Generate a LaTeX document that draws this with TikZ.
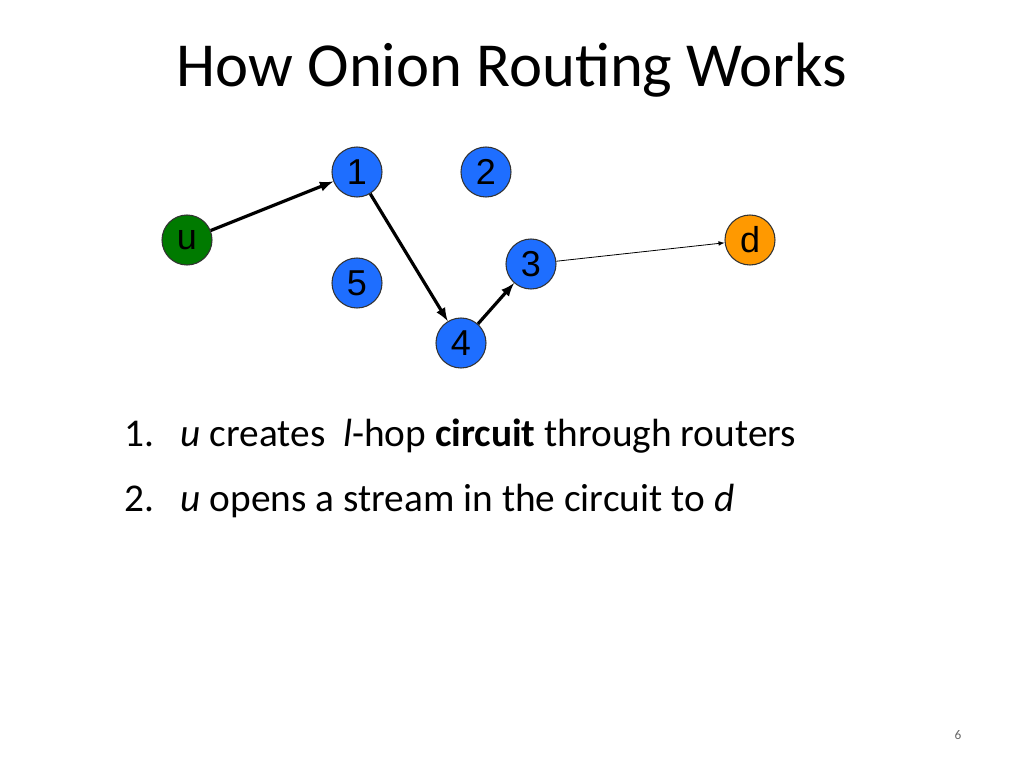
\documentclass[tikz,border=0pt]{standalone}
\usepackage{fontspec}
\setmainfont{Carlito}
\newfontfamily\nodefont{Liberation Sans}
\begin{document}
\begin{tikzpicture}[x=0.75pt,y=-0.75pt,
 rnode/.style={circle,draw=black!80,line width=0.8pt,minimum size=37.5pt,inner sep=0pt,font=\nodefont\fontsize{27}{27}\selectfont},
 thk/.style={-latex,line width=2.4pt},
 thn/.style={-latex,line width=0.6pt}]
\useasboundingbox (0,0) rectangle (1024,768);
\node[font=\fontsize{47}{50}\selectfont] (title) at (512,70) {How Onion Routing Works};
\node[rnode,fill={rgb,255:red,0;green,122;blue,0}] (u) at (187,240) {u};
\node[rnode,fill={rgb,255:red,30;green,110;blue,255}] (n1) at (357,172) {1};
\node[rnode,fill={rgb,255:red,30;green,110;blue,255}] (n2) at (486,172) {2};
\node[rnode,fill={rgb,255:red,255;green,153;blue,0}] (d) at (750,240) {d};
\node[rnode,fill={rgb,255:red,30;green,110;blue,255}] (n3) at (531,264) {3};
\node[rnode,fill={rgb,255:red,30;green,110;blue,255}] (n5) at (357,283) {5};
\node[rnode,fill={rgb,255:red,30;green,110;blue,255}] (n4) at (461,343) {4};
\draw[thk] (u) -- (n1);
\draw[thk] (n1) -- (n4);
\draw[thk] (n4) -- (n3);
\draw[thn] (n3) -- (d);
\node[anchor=base west,font=\fontsize{29.5}{32}\selectfont] (l1) at (120,446) {1.};
\node[anchor=base west,font=\fontsize{29.5}{32}\selectfont] (t1) at (176,446) {\textit{u} creates~ \textit{l}-hop \textbf{circuit} through routers};
\node[anchor=base west,font=\fontsize{29.5}{32}\selectfont] (l2) at (120,511) {2.};
\node[anchor=base west,font=\fontsize{29.5}{32}\selectfont] (t2) at (176,511) {\textit{u} opens a stream in the circuit to \textit{d}};
\node[font=\fontsize{10}{12}\selectfont,text=black!60] (pg) at (958,735) {6};
\end{tikzpicture}
\end{document}
